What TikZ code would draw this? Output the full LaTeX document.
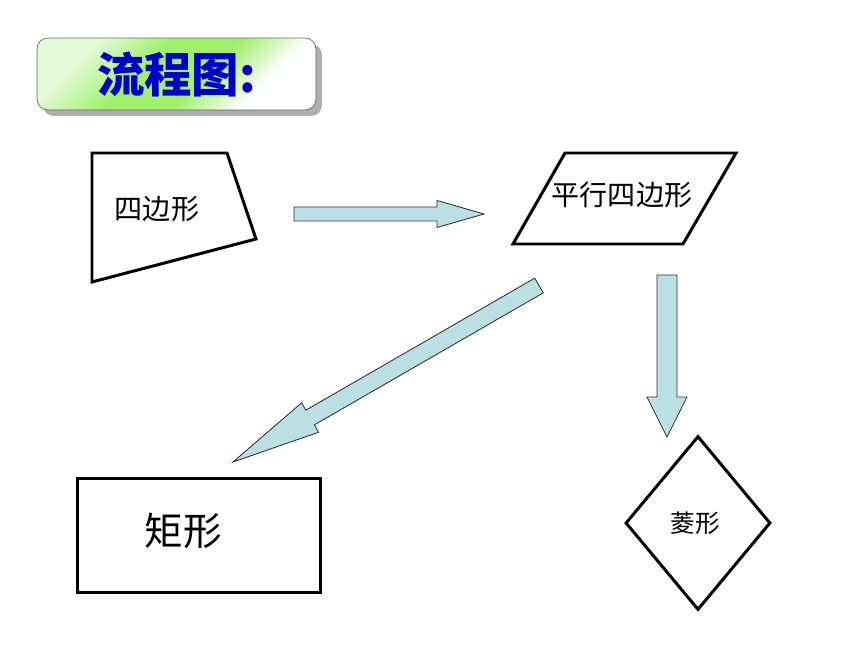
\documentclass[tikz,border=0pt]{standalone}
\usepackage{fontspec}
\newfontfamily\cjk{Noto Sans CJK SC}
\usetikzlibrary{shapes,arrows,calc,shadows}
\definecolor{arrowfill}{RGB}{187,224,227}
\definecolor{titlegreen}{RGB}{160,240,108}
\definecolor{titlepale}{RGB}{226,250,214}
\definecolor{titleblue}{RGB}{0,0,204}
\pgfdeclareverticalshading{titleshade}{100bp}{color(0bp)=(white); color(30bp)=(white);
  color(44bp)=(titlegreen); color(58bp)=(titlegreen); color(72bp)=(titlepale); color(100bp)=(titlepale)}
\newcommand{\blockarrow}[5]{%
  \coordinate (hb) at ($(#5)!#3!(#4)$);
  \path[line] ($(#4)!#1!90:(#5)$) -- ($(hb)!#1!90:(#5)$) -- ($(hb)!#2!90:(#5)$) -- (#5)
    -- ($(hb)!#2!-90:(#5)$) -- ($(hb)!#1!-90:(#5)$) -- ($(#4)!#1!-90:(#5)$) -- cycle;}

\begin{document}
\begin{tikzpicture}[x=0.02cm,y=-0.02cm,
	outline/.style={draw=black,line width=1.7pt,line join=miter},
	txt/.style={font=\cjk\fontsize{16}{19}\selectfont,inner sep=0pt},
	line/.style={draw=black!80,fill=arrowfill,line width=0.5pt},
	titlebox/.style={rectangle,rounded corners=0.22cm,draw=black!60,thin,minimum width=5.58cm,minimum height=1.44cm,
		shade,shading=titleshade,shading angle=45,
		drop shadow={shadow xshift=0.12cm,shadow yshift=-0.12cm,fill=black!45,opacity=0.7},
		font=\cjk\bfseries\fontsize{27}{32}\selectfont,text=titleblue}]
\useasboundingbox (0,0) rectangle (860,645);
\node[titlebox] (title) at (176.5,74) {流程图:};
\draw[outline] (92,153) -- (227,153) -- (256,239) -- (92,282) -- cycle;
\node[txt] (quad) at (157,209) {四边形};
\draw[outline] (565,153) -- (736,153) -- (683,244) -- (513,244) -- cycle;
\node[txt] (para) at (622,195) {平行四边形};
\node[outline,rectangle,minimum width=4.88cm,minimum height=2.3cm] (rect) at (199,535.5) {};
\node[txt,font=\cjk\fontsize{22}{26}\selectfont] (rectname) at (183,531) {矩形};
\node[outline,diamond,minimum width=2.9cm,minimum height=3.48cm] (rhombus) at (698,523) {};
\node[txt,font=\cjk\fontsize{14}{17}\selectfont] (rhombusname) at (695,523) {菱形};
\coordinate (rtail) at (294,214);
\coordinate (rtip) at (484,214);
\coordinate (ltail) at (539,285.5);
\coordinate (ltip) at (233,462);
\coordinate (dtail) at (667,275);
\coordinate (dtip) at (667,437);
\blockarrow{0.14cm}{0.27cm}{0.94cm}{rtail}{rtip}
\blockarrow{0.17cm}{0.34cm}{1.78cm}{ltail}{ltip}
\blockarrow{0.2cm}{0.4cm}{0.8cm}{dtail}{dtip}
\end{tikzpicture}
\end{document}
